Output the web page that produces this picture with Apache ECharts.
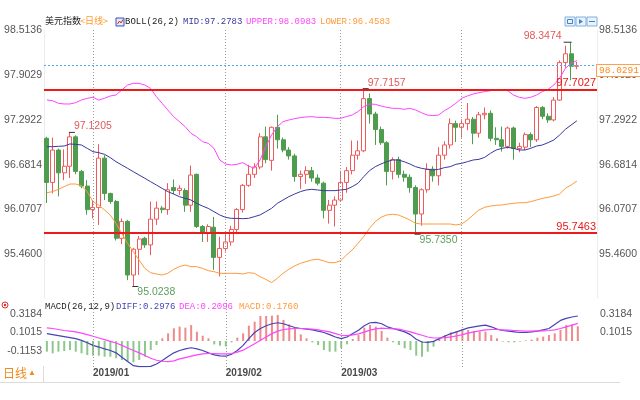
<!DOCTYPE html>
<html><head><meta charset="utf-8">
<script src="https://cdn.jsdelivr.net/npm/echarts@6/dist/echarts.min.js"></script>
<style>html,body{margin:0;padding:0;background:#fff}#c{width:640px;height:400px}</style>
</head><body><div id="c"></div>
<script>
const categories = [
'2018-12-20','2018-12-21','2018-12-24','2018-12-25','2018-12-26','2018-12-27','2018-12-28','2018-12-31',
'2019-01-01','2019-01-02','2019-01-03','2019-01-04','2019-01-07','2019-01-08','2019-01-09','2019-01-10','2019-01-11','2019-01-14','2019-01-15','2019-01-16','2019-01-17','2019-01-18','2019-01-21','2019-01-22','2019-01-23','2019-01-24','2019-01-25','2019-01-28','2019-01-29','2019-01-30','2019-01-31',
'2019-02-01','2019-02-04','2019-02-05','2019-02-06','2019-02-07','2019-02-08','2019-02-11','2019-02-12','2019-02-13','2019-02-14','2019-02-15','2019-02-18','2019-02-19','2019-02-20','2019-02-21','2019-02-22','2019-02-25','2019-02-26','2019-02-27','2019-02-28',
'2019-03-01','2019-03-04','2019-03-05','2019-03-06','2019-03-07','2019-03-08','2019-03-11','2019-03-12','2019-03-13','2019-03-14','2019-03-15','2019-03-18','2019-03-19','2019-03-20','2019-03-21','2019-03-22','2019-03-25','2019-03-26','2019-03-27','2019-03-28','2019-03-29',
'2019-04-01','2019-04-02','2019-04-03','2019-04-04','2019-04-05','2019-04-08','2019-04-09','2019-04-10','2019-04-11','2019-04-12','2019-04-15','2019-04-16','2019-04-17','2019-04-18','2019-04-19','2019-04-22','2019-04-23','2019-04-24','2019-04-25','2019-04-26','2019-04-29',
'2019-04-30','2019-05-01','2019-05-02'];

const opens = [97.04,96.44,96.88,96.57,96.66,97.06,96.59,96.39,96.07,96.10,
 96.77,96.29,96.18,95.68,95.91,95.18,95.53,95.68,95.59,95.94,
 96.09,96.07,96.37,96.33,96.33,96.13,96.55,95.84,95.75,95.83,
 95.42,95.54,95.63,95.80,96.07,96.40,96.55,96.65,97.06,96.74,
 97.19,97.02,96.88,96.80,96.52,96.55,96.60,96.50,96.43,96.06,
 96.13,96.20,96.44,96.60,96.81,96.87,97.58,97.37,97.16,96.98,
 96.59,96.75,96.55,96.51,96.37,96.01,96.34,96.62,96.53,96.81,
 96.95,97.24,97.19,97.24,97.30,97.11,97.36,97.38,97.04,97.02,
 96.93,97.18,96.90,96.92,97.09,97.02,97.46,97.34,97.29,97.56,
 98.07,98.19,98.02];
const closes = [96.44,96.88,96.57,96.66,97.06,96.59,96.39,96.07,96.10,96.77,
 96.29,96.18,95.68,95.91,95.18,95.53,95.67,95.59,95.94,96.09,
 96.07,96.34,96.33,96.36,96.13,96.54,95.84,95.75,95.84,95.42,
 95.54,95.63,95.80,96.07,96.40,96.55,96.65,97.06,96.75,97.19,
 97.02,96.88,96.80,96.52,96.55,96.60,96.50,96.43,96.06,96.13,
 96.20,96.44,96.60,96.81,96.87,97.58,97.37,97.16,96.98,96.59,
 96.75,96.55,96.51,96.37,96.01,96.34,96.62,96.53,96.81,96.95,
 97.24,97.19,97.24,97.30,97.11,97.36,97.38,97.04,97.02,96.93,
 97.18,96.90,96.93,97.09,97.02,97.46,97.34,97.29,97.56,98.07,
 98.19,98.02,98.0291];
const lows = [96.16,96.29,96.25,96.47,96.50,96.55,96.36,96.00,95.95,95.86,
 96.20,96.15,95.65,95.60,95.11,95.0238,95.18,95.55,95.45,95.86,
 96.02,96.00,96.28,96.27,96.04,96.04,95.82,95.63,95.63,95.25,
 95.16,95.50,95.58,95.75,96.03,96.38,96.50,96.62,96.70,96.60,
 96.90,96.85,96.75,96.45,96.35,96.42,96.45,96.40,95.95,95.88,
 95.84,96.18,96.30,96.55,96.75,96.85,97.24,96.95,96.95,96.40,
 96.48,96.50,96.45,96.30,95.735,95.85,96.30,96.45,96.40,96.75,
 96.90,96.99,97.05,97.15,96.96,97.05,97.30,97.00,96.95,96.86,
 96.90,96.75,96.85,96.88,96.92,96.99,97.30,97.25,97.27,97.55,
 98.00,97.83,97.98];
const highs = [97.06,97.05,96.90,96.89,97.1205,97.08,96.61,96.47,96.20,96.96,
 96.81,96.30,96.20,95.95,95.93,95.55,95.71,95.70,96.18,96.18,
 96.12,96.43,96.48,96.40,96.36,96.67,96.56,95.86,95.87,95.97,
 95.70,95.75,95.85,96.09,96.42,96.68,96.70,97.11,97.20,97.20,
 97.36,97.05,96.92,96.83,96.60,96.66,96.65,96.55,96.45,96.20,
 96.25,96.60,96.65,97.01,97.01,97.7157,97.65,97.40,97.20,97.00,
 96.78,96.79,96.60,96.55,96.40,96.36,96.70,96.66,96.92,97.00,
 97.31,97.28,97.30,97.52,97.33,97.40,97.46,97.42,97.19,97.20,
 97.20,97.20,96.98,97.12,97.12,97.48,97.48,97.38,97.60,98.10,
 98.30,98.3474,98.08];

const bollMid = [96.926,96.926,96.931,96.935,96.963,96.958,96.949,96.904,96.858,96.845,
 96.822,96.777,96.722,96.677,96.632,96.586,96.541,96.496,96.450,96.405,
 96.359,96.314,96.282,96.246,96.223,96.201,96.155,96.119,96.087,96.042,
 95.997,95.965,95.951,95.951,95.947,95.951,95.974,95.997,96.042,96.087,
 96.155,96.201,96.246,96.282,96.314,96.337,96.346,96.337,96.328,96.328,
 96.328,96.337,96.346,96.382,96.428,96.518,96.600,96.654,96.691,96.722,
 96.745,96.745,96.722,96.691,96.654,96.632,96.618,96.609,96.618,96.641,
 96.654,96.686,96.700,96.722,96.745,96.754,96.781,96.836,96.881,96.904,
 96.917,96.904,96.881,96.881,96.904,96.935,96.949,96.981,97.017,97.085,
 97.162,97.221,97.2783];
const bollUpper = [97.561,97.552,97.516,97.507,97.507,97.525,97.561,97.584,97.598,97.561,
 97.584,97.616,97.629,97.697,97.765,97.788,97.788,97.765,97.720,97.607,
 97.516,97.425,97.335,97.267,97.198,97.108,97.062,96.995,96.972,96.904,
 96.745,96.691,96.677,96.686,96.709,96.663,96.632,96.745,96.926,97.085,
 97.198,97.267,97.289,97.307,97.321,97.330,97.335,97.325,97.325,97.321,
 97.312,97.312,97.335,97.357,97.403,97.471,97.507,97.502,97.480,97.461,
 97.448,97.448,97.434,97.448,97.425,97.389,97.357,97.348,97.357,97.416,
 97.461,97.516,97.584,97.616,97.643,97.661,97.675,97.688,97.697,97.697,
 97.688,97.629,97.598,97.584,97.598,97.629,97.675,97.706,97.765,97.856,
 97.992,98.060,98.0983];
const bollLower = [96.300,96.314,96.346,96.382,96.418,96.418,96.396,96.314,96.178,96.133,
 96.065,95.997,95.883,95.747,95.611,95.498,95.385,95.271,95.212,95.194,
 95.180,95.203,95.257,95.294,95.316,95.294,95.294,95.271,95.239,95.226,
 95.203,95.203,95.203,95.203,95.194,95.212,95.203,95.158,95.121,95.076,
 95.135,95.203,95.257,95.303,95.339,95.362,95.385,95.394,95.375,95.348,
 95.348,95.375,95.452,95.521,95.611,95.702,95.815,95.906,95.965,95.997,
 96.006,95.997,95.965,95.929,95.883,95.874,95.874,95.874,95.874,95.874,
 95.874,95.861,95.874,95.929,95.997,96.065,96.101,96.119,96.128,96.133,
 96.146,96.155,96.164,96.164,96.178,96.201,96.223,96.237,96.255,96.282,
 96.359,96.405,96.4583];

const macdDiff = [0.088,0.076,0.064,0.052,0.040,0.028,0.008,-0.020,-0.052,-0.072,
 -0.093,-0.113,-0.141,-0.193,-0.245,-0.294,-0.306,-0.306,-0.302,-0.274,
 -0.233,-0.185,-0.141,-0.113,-0.093,-0.080,-0.093,-0.113,-0.141,-0.165,
 -0.177,-0.181,-0.157,-0.113,-0.052,0.028,0.101,0.149,0.181,0.205,
 0.217,0.205,0.181,0.161,0.149,0.141,0.133,0.117,0.101,0.076,
 0.048,0.028,0.048,0.088,0.129,0.181,0.217,0.221,0.205,0.169,
 0.149,0.129,0.109,0.076,0.020,-0.012,-0.016,-0.004,0.028,0.060,
 0.088,0.109,0.133,0.157,0.169,0.181,0.189,0.169,0.141,0.125,
 0.117,0.109,0.101,0.101,0.109,0.117,0.133,0.149,0.197,0.245,
 0.270,0.286,0.2976];
const macdDea = [0.157,0.149,0.137,0.125,0.117,0.109,0.093,0.076,0.056,0.036,
 0.016,-0.004,-0.024,-0.052,-0.084,-0.113,-0.141,-0.173,-0.205,-0.229,
 -0.241,-0.245,-0.237,-0.213,-0.197,-0.181,-0.165,-0.153,-0.149,-0.149,
 -0.153,-0.153,-0.149,-0.133,-0.109,-0.072,-0.032,0.008,0.048,0.088,
 0.117,0.137,0.145,0.149,0.149,0.145,0.141,0.133,0.121,0.109,
 0.088,0.068,0.064,0.072,0.084,0.105,0.129,0.145,0.153,0.149,
 0.145,0.141,0.125,0.109,0.088,0.068,0.048,0.036,0.036,0.040,
 0.048,0.060,0.076,0.093,0.109,0.121,0.133,0.137,0.137,0.133,
 0.129,0.125,0.121,0.117,0.117,0.121,0.121,0.125,0.133,0.149,
 0.169,0.189,0.2096];
const macdHist = [-0.127,-0.147,-0.127,-0.119,-0.107,-0.127,-0.147,-0.167,-0.175,-0.175,
 -0.187,-0.187,-0.206,-0.226,-0.246,-0.254,-0.226,-0.187,-0.107,-0.048,
 0.032,0.091,0.151,0.171,0.159,0.190,0.111,0.063,0.032,-0.040,
 -0.056,-0.065,-0.016,0.040,0.091,0.183,0.230,0.298,0.298,0.302,
 0.310,0.250,0.198,0.151,0.079,0.032,-0.016,-0.048,-0.107,-0.127,
 -0.127,-0.087,-0.040,0.024,0.071,0.159,0.190,0.171,0.119,0.040,
 -0.016,-0.048,-0.087,-0.107,-0.175,-0.187,-0.127,-0.067,0.040,0.071,
 0.103,0.119,0.143,0.131,0.119,0.111,0.111,0.071,0.032,-0.008,
 -0.016,-0.016,-0.008,0.008,0.016,0.040,0.052,0.071,0.091,0.131,
 0.190,0.198,0.176];

const priceTicks = [95.4600, 96.0707, 96.6814, 97.2922, 97.9029, 98.5136];
const macdTicksLeft = [0.3184, 0.1015, -0.1153];
const macdTicksRight = [0.3184, 0.1015];
const monthStartIdx = [8, 31, 51, 72];
const monthLabelIdx = [8, 31, 51];
const levelLines = [97.7027, 95.7463];
const extremes = [[4,'high','right'],[15,'low','right'],[55,'high','right'],[64,'low','right'],[91,'high','left']];

const RED = '#f05a5a', GREEN = '#4e9d4e';
const mono = 'Liberation Mono, DejaVu Sans Mono, monospace';
const sans = 'Liberation Sans, Arial, sans-serif';
const candleData = opens.map((o, i) => [o, closes[i], lows[i], highs[i]]);
const last = closes.length - 1;
const f4 = v => Number(v).toFixed(4);

const monthLines = monthStartIdx.map(i => ({
  xAxis: categories[i],
  lineStyle: {color: '#9a9a9a', type: [1, 2], width: 1},
  label: {show: false}
}));

const markPts = extremes.map(([i, kind, side]) => {
  const v = kind === 'high' ? highs[i] : lows[i];
  const dy = kind === 'high' ? -6 : 6;
  const right = side === 'right';
  return {
    coord: [categories[i], v], value: v,
    symbol: 'rect',
    symbolSize: right ? [6, 1] : [8, 1],
    symbolOffset: right ? [2, 0] : [-3.5, 0],
    itemStyle: {color: '#333'},
    label: {
      show: true, position: 'inside',
      align: right ? 'left' : 'right', verticalAlign: 'middle',
      offset: right ? [2, dy] : [-6, dy],
      formatter: f4(v),
      color: kind === 'high' ? '#e05a5a' : '#5d9f5d',
      fontSize: 10.5, fontFamily: sans
    }
  };
});

const chart = echarts.init(document.getElementById('c'));
const option = {
  animation: false,
  backgroundColor: '#fff',
  grid: [
    {left: 44, width: 554, top: 30, height: 268},
    {left: 44, width: 554, top: 298, height: 69}
  ],
  xAxis: [
    {type: 'category', gridIndex: 0, data: categories, boundaryGap: true,
     axisLine: {show: false}, axisTick: {show: false}, axisLabel: {show: false}, splitLine: {show: false}},
    {type: 'category', gridIndex: 1, data: categories, boundaryGap: true,
     axisLine: {show: false}, axisTick: {show: false}, splitLine: {show: false},
     axisLabel: {show: true, interval: (idx) => monthLabelIdx.includes(idx),
       formatter: (v) => v.slice(0, 7).replace('-', '/'),
       align: 'left', margin: 1.5, color: '#4a4a4a', fontWeight: 'bold', fontSize: 10, fontFamily: sans}}
  ],
  yAxis: [
    {type: 'value', gridIndex: 0, position: 'left', min: 94.8673, max: 98.5136, scale: true,
     axisLine: {show: true, lineStyle: {color: '#ececec'}}, axisTick: {show: false}, splitLine: {show: false},
     axisLabel: {customValues: priceTicks, formatter: f4, color: '#555', fontSize: 10.5, fontFamily: sans, margin: 2}},
    {type: 'value', gridIndex: 0, position: 'right', min: 94.8673, max: 98.5136, scale: true,
     axisLine: {show: true, lineStyle: {color: '#ececec'}}, axisTick: {show: false}, splitLine: {show: false},
     axisLabel: {customValues: priceTicks, formatter: f4, color: '#555', fontSize: 10.5, fontFamily: sans, margin: 2}},
    {type: 'value', gridIndex: 1, position: 'left', min: -0.3095, max: 0.5119,
     axisLine: {show: false}, axisTick: {show: false}, splitLine: {show: false},
     axisLabel: {customValues: macdTicksLeft, formatter: f4, color: '#555', fontSize: 10.5, fontFamily: sans, margin: 2}},
    {type: 'value', gridIndex: 1, position: 'right', min: -0.3095, max: 0.5119,
     axisLine: {show: false}, axisTick: {show: false}, splitLine: {show: false},
     axisLabel: {customValues: macdTicksRight, formatter: f4, color: '#555', fontSize: 10.5, fontFamily: sans, margin: 2}}
  ],
  series: [
    {type: 'candlestick', xAxisIndex: 0, yAxisIndex: 0, data: candleData, barWidth: 4.5,
     itemStyle: {color: '#fff', color0: GREEN, borderColor: RED, borderColor0: GREEN, borderWidth: 1},
     markLine: {silent: true, symbol: ['none', 'none'], animation: false,
       data: [
         ...monthLines,
         ...levelLines.map(v => ({yAxis: v, lineStyle: {color: '#ee1a1a', width: 2, type: 'solid'},
            label: {show: true, position: 'insideEndTop', distance: 1, formatter: f4(v), color: '#e51a1a', fontSize: 11, fontFamily: sans}})),
         {yAxis: closes[last], lineStyle: {color: '#5aa6f2', width: 1, type: [2, 2]},
          label: {show: true, position: 'end', distance: 0, formatter: f4(closes[last]), color: '#ff8a1a',
            backgroundColor: '#fff', borderColor: '#ffa050', borderWidth: 1, padding: [1, 2, 0, 2],
            fontSize: 9.5, fontFamily: mono, offset: [0, 5]}}
       ]},
     markPoint: {silent: true, animation: false, data: markPts}
    },
    {type: 'line', name: 'UPPER', xAxisIndex: 0, yAxisIndex: 0, data: bollUpper, symbol: 'none',
     lineStyle: {color: '#ff44ff', width: 1}},
    {type: 'line', name: 'MID', xAxisIndex: 0, yAxisIndex: 0, data: bollMid, symbol: 'none',
     lineStyle: {color: '#38389e', width: 1}},
    {type: 'line', name: 'LOWER', xAxisIndex: 0, yAxisIndex: 0, data: bollLower, symbol: 'none',
     lineStyle: {color: '#ff9a3a', width: 1}},
    {type: 'bar', name: 'MACD', xAxisIndex: 1, yAxisIndex: 2, data: macdHist, barWidth: 2,
     itemStyle: {color: (p) => p.value >= 0 ? '#ee8a8a' : '#8cc88c'},
     markLine: {silent: true, symbol: ['none', 'none'], animation: false, data: monthLines}},
    {type: 'line', name: 'DIFF', xAxisIndex: 1, yAxisIndex: 2, data: macdDiff, symbol: 'none',
     lineStyle: {color: '#4545b5', width: 1.2}},
    {type: 'line', name: 'DEA', xAxisIndex: 1, yAxisIndex: 2, data: macdDea, symbol: 'none',
     lineStyle: {color: '#ff44ff', width: 1.2}}
  ],
  graphic: [
    {type: 'text', left: 45, top: 16, style: {text: '美元指数', fill: '#222', font: '9px "Noto Sans CJK SC"'}},
    {type: 'text', left: 80, top: 16, style: {text: '<日线>', fill: '#ff9a2a', font: '9px "Noto Sans CJK SC"'}},
    {type: 'rect', shape: {x: 116, y: 18, width: 8, height: 8}, style: {fill: '#e4e8ff', stroke: '#3850b0', lineWidth: 1}},
    {type: 'polyline', shape: {points: [[117.5, 24], [119.5, 21], [121, 23], [123, 19.5]]}, style: {stroke: '#d0302f', lineWidth: 1, fill: null}},
    {type: 'text', left: 125, top: 17.5, style: {text: 'BOLL(26,2)', fill: '#222', font: '9px ' + mono}},
    {type: 'text', left: 183, top: 17.5, style: {text: 'MID:' + f4(bollMid[last]), fill: '#38389e', font: '9px ' + mono}},
    {type: 'text', left: 246, top: 17.5, style: {text: 'UPPER:' + f4(bollUpper[last]), fill: '#ff44ff', font: '9px ' + mono}},
    {type: 'text', left: 320, top: 17.5, style: {text: 'LOWER:' + f4(bollLower[last]), fill: '#ff9a3a', font: '9px ' + mono}},
    {type: 'rect', shape: {x: 565, y: 17, width: 10, height: 9}, style: {fill: '#eaf3fd', stroke: '#7fb0e0', lineWidth: 1}},
    {type: 'rect', shape: {x: 576, y: 17, width: 10, height: 9}, style: {fill: '#eaf3fd', stroke: '#7fb0e0', lineWidth: 1}},
    {type: 'rect', shape: {x: 587, y: 17, width: 10, height: 9}, style: {fill: '#eaf3fd', stroke: '#7fb0e0', lineWidth: 1}},
    {type: 'rect', shape: {x: 567.5, y: 19.5, width: 5, height: 4}, style: {fill: null, stroke: '#4a7fc0', lineWidth: 1}},
    {type: 'polygon', shape: {points: [[579, 19], [583, 21.5], [579, 24]]}, style: {fill: '#4a7fc0'}},
    {type: 'polyline', shape: {points: [[589, 21.5], [595, 21.5]]}, style: {stroke: '#4a7fc0', lineWidth: 1}},
    {type: 'text', left: 45, top: 302.5, style: {text: 'MACD(26,12,9)', fill: '#222', font: '9px ' + mono}},
    {type: 'text', left: 116, top: 302.5, style: {text: 'DIFF:' + f4(macdDiff[last]), fill: '#4545b5', font: '9px ' + mono}},
    {type: 'text', left: 179, top: 302.5, style: {text: 'DEA:' + f4(macdDea[last]), fill: '#ff44ff', font: '9px ' + mono}},
    {type: 'text', left: 239, top: 302.5, style: {text: 'MACD:' + f4(macdHist[last]), fill: '#ff9a3a', font: '9px ' + mono}},
    {type: 'circle', shape: {cx: 5, cy: 305, r: 3}, style: {fill: null, stroke: '#e03030', lineWidth: 1}},
    {type: 'circle', shape: {cx: 5, cy: 305, r: 1.2}, style: {fill: '#e03030'}},
    {type: 'text', left: 3, top: 367, style: {text: '日线', fill: '#f08a1a', font: '12px "Noto Sans CJK SC"'}},
    {type: 'text', left: 28, top: 369, style: {text: '▲', fill: '#f08a1a', font: '8px ' + sans}},
    {type: 'line', shape: {x1: 0, y1: 382.5, x2: 620, y2: 382.5}, style: {stroke: '#dcdcdc', lineWidth: 1}},
    {type: 'line', shape: {x1: 43.5, y1: 366, x2: 43.5, y2: 382}, style: {stroke: '#dcdcdc', lineWidth: 1}}
  ]
};
chart.setOption(option);
</script>
</body></html>
